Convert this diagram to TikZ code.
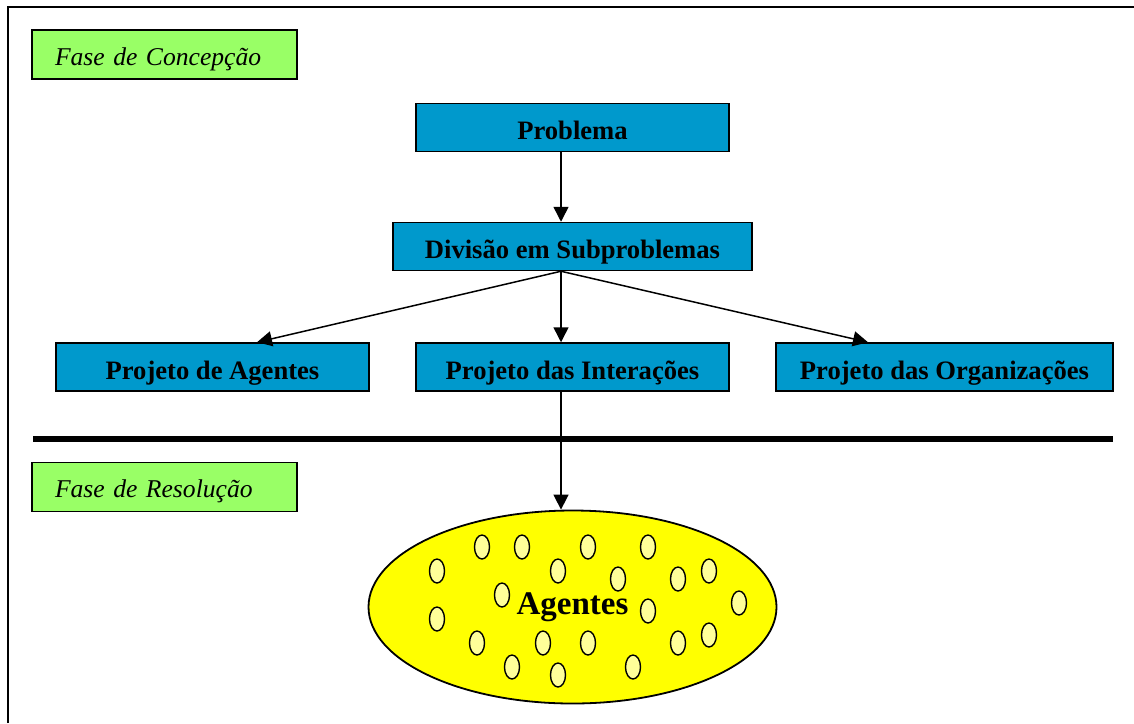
\documentclass[tikz,border=0pt]{standalone}
\usepackage{fontspec}
\setmainfont{Liberation Serif}
\usetikzlibrary{positioning, arrows.meta, shapes.geometric}

\definecolor{caixaazul}{HTML}{0099CC}
\definecolor{caixaverde}{HTML}{99FF66}
\definecolor{amarelo}{HTML}{FFFF00}
\definecolor{amareloclaro}{HTML}{FFFF99}

\tikzset{
    etapa/.style={draw, line width=0.75pt, fill=caixaazul, inner xsep=0pt, inner ysep=0pt,
        text height=18pt, text depth=6pt, minimum height=24pt,
        font=\fontsize{13.3}{15}\selectfont\bfseries},
    fase/.style={draw, line width=0.75pt, fill=caixaverde, inner xsep=11.5pt, inner ysep=0pt,
        text width=109.5pt, align=left, text height=17.5pt, text depth=7pt, minimum height=24.5pt,
        font=\fontsize{12.8}{15}\selectfont\itshape},
    seta/.style={-{Triangle[length=7.5pt, width=7.5pt]}, line width=0.75pt},
    agente/.style={draw, line width=0.7pt, fill=amareloclaro}
}

\begin{document}
\begin{tikzpicture}[x=0.5pt, y=-0.5pt, node distance=60pt, on grid]
    \useasboundingbox (0,0) rectangle (1134,723);
    \draw[line width=1pt] (8,723) -- (8,7) -- (1134,7);

    \node[fase] (concepcao) at (164.5,54.5) {Fase de Concepção};
    \node[fase] (resolucao) at (164.5,487) {Fase de Resolução};

    \node[etapa, minimum width=156.5pt] (problema) at (572.5,127.5) {Problema};
    \node[etapa, minimum width=179.5pt, below=59.5pt of problema] (divisao) {Divisão em Subproblemas};
    \node[etapa, minimum width=156.5pt, below=60.25pt of divisao] (interacoes) {Projeto das Interações};
    \node[etapa, minimum width=156.5pt, left=180pt of interacoes] (projagentes) {Projeto de Agentes};
    \node[etapa, minimum width=168.5pt, right=186pt of interacoes] (organizacoes) {Projeto das Organizações};

    % separa as duas fases
    \draw[line width=3pt] (33,439) -- (1113,439);

    \node[draw, ellipse, line width=0.9pt, fill=amarelo, inner sep=0pt,
        minimum width=204pt, minimum height=96.5pt, below=120pt of interacoes,
        font=\fontsize{16.5}{18}\selectfont\bfseries] (agentes) {Agentes};
    \foreach \x/\y in {482/547, 522/547, 588/547, 648/547, 437/571, 558/571, 618/579,
        678/579, 709/571, 502/595, 739/603, 648/611, 437/619, 477/643, 543/643,
        588/643, 678/643, 709/635, 512/667, 558/675, 633/667}
        \draw[agente] (\x,\y) ellipse [x radius=7.5, y radius=12];

    \draw[seta] ([xshift=-5.75pt]problema.south) -- ([xshift=-5.75pt]divisao.north);
    \draw[seta] ([xshift=-5.75pt]divisao.south) -- ([xshift=22.25pt]projagentes.north);
    \draw[seta] ([xshift=-5.75pt]divisao.south) -- ([xshift=-5.75pt]interacoes.north);
    \draw[seta] ([xshift=-5.75pt]divisao.south) -- ([xshift=-38.25pt]organizacoes.north);
    \draw[seta] ([xshift=-5.75pt]interacoes.south) -- ([xshift=-5.75pt]agentes.north);
\end{tikzpicture}
\end{document}
